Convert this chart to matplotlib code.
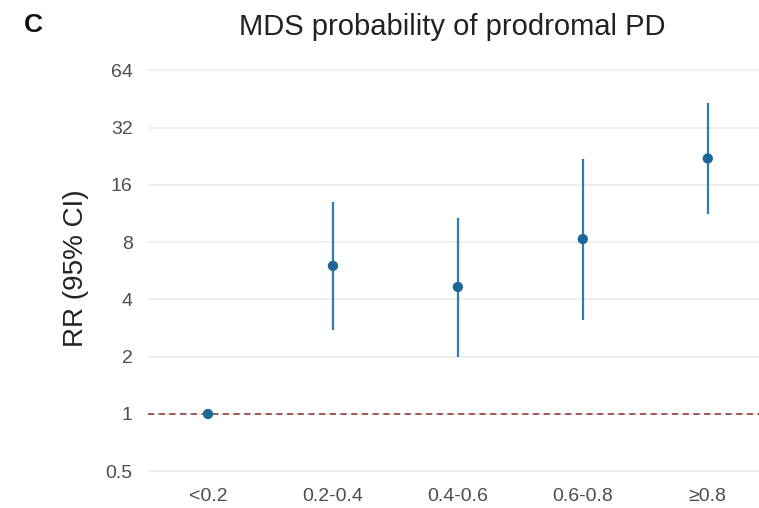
import numpy as np
import matplotlib
matplotlib.use("Agg")
import matplotlib.pyplot as plt

plt.rcParams['font.family'] = ['Liberation Sans', 'DejaVu Sans']

# MDS probability groups and risk ratios
groups = ['<0.2', '0.2-0.4', '0.4-0.6', '0.6-0.8', '≥0.8']
rr = [1.0, 6.0, 4.65, 8.3, 22.0]
ci_low = [1.0, 2.76, 2.0, 3.12, 11.2]
ci_high = [1.0, 13.0, 10.7, 21.9, 43.0]
yticks = [0.5, 1, 2, 4, 8, 16, 32, 64]
ytick_labels = ['0.5', '1', '2', '4', '8', '16', '32', '64']

fig = plt.figure(figsize=(7.59, 5.08), dpi=100)
ax = fig.add_axes([148 / 759, 1 - 478 / 508, 1 - 148 / 759, (478 - 58) / 508])

x = np.arange(1, len(groups) + 1)

ax.axhline(1, color='#8b2e2e', linestyle=(0, (4, 3)), linewidth=1.1, zorder=1)
ax.vlines(x, ci_low, ci_high, color='#2f7cb3', linewidth=1.6, zorder=2)
ax.scatter(x, rr, s=55, color='#1b6896', zorder=3, edgecolors='none')

ax.set_yscale('log', base=2)
ax.set_ylim(2 ** ((414 - 478) / 57.3), 2 ** ((414 - 58) / 57.3))
ax.set_xlim(0.52, 5.41)
ax.set_yticks(yticks)
ax.set_yticklabels(ytick_labels)
ax.minorticks_off()
ax.set_xticks(x)
ax.set_xticklabels(groups)
ax.tick_params(axis='both', length=0, colors='#4d4d4d')
ax.tick_params(axis='x', pad=7, labelsize=14)
ax.tick_params(axis='y', pad=11, labelsize=14)
ax.grid(axis='y', color='#ececec', linewidth=1.2)
ax.grid(axis='x', visible=False)
ax.set_axisbelow(True)
for s in ax.spines.values():
    s.set_visible(False)

ax.set_ylabel('RR (95% CI)', fontsize=20, color='#222222', labelpad=12)
fig.text(452 / 759, 1 - 27 / 508, 'MDS probability of prodromal PD',
         ha='center', va='center', fontsize=21, color='#222222')
fig.text(33 / 759, 1 - 25 / 508, 'C', ha='center', va='center',
         fontsize=19, fontweight='bold', color='#111111')

fig.savefig('out.png', dpi=100)
